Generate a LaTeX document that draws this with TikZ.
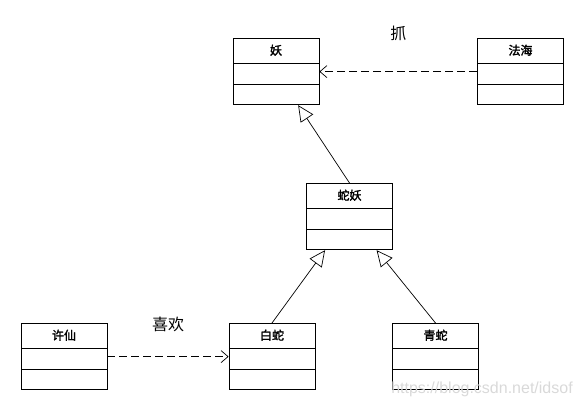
\documentclass[tikz,border=0pt]{standalone}
\usepackage{fontspec}
\newfontfamily\cjk{Noto Sans CJK SC}[AutoFakeBold=2]
\newfontfamily\wmfont{Liberation Sans}
\usepackage{tikz}
\usetikzlibrary{shapes.multipart,arrows.meta}

% class box: name part + two empty parts
\newcommand{\umlclass}[1]{\rule[-8pt]{0pt}{24pt}\textbf{#1}\nodepart{two}\nodepart{three}}

\tikzset{
  cls/.style={rectangle split, rectangle split parts=3, draw, line width=0.8pt,
    minimum width=86pt, inner ysep=0pt, inner xsep=2pt,
    rectangle split empty part height=20pt, rectangle split empty part depth=0pt,
    font=\cjk\fontsize{12pt}{12pt}\selectfont},
  dep/.style={draw, line width=0.7pt, dash pattern=on 8pt off 4pt,
    -{Straight Barb[length=7pt,width=12pt]}},
  inh/.style={draw, line width=0.7pt, -{Triangle[open,length=16pt,width=15pt,fill=white]}},
  lbl/.style={font=\cjk\fontsize{16pt}{16pt}\selectfont, inner sep=0pt}
}

\begin{document}
\begin{tikzpicture}[x=1pt, y=-1pt]
 \useasboundingbox (0,0) rectangle (582,406);

 \node[cls, anchor=north] (yao)     at (276,38)    {\umlclass{妖}};
 \node[cls, anchor=north] (fahai)   at (520.5,38)  {\umlclass{法海}};
 \node[cls, anchor=north] (sheyao)  at (349.5,183) {\umlclass{蛇妖}};
 \node[cls, anchor=north] (xuxian)  at (64,323)    {\umlclass{许仙}};
 \node[cls, anchor=north] (baishe)  at (272,323)   {\umlclass{白蛇}};
 \node[cls, anchor=north] (qingshe) at (435.5,323) {\umlclass{青蛇}};

 \draw[dep] (fahai) -- node[lbl, above=31pt] (zhua) {抓} (yao);
 \draw[dep] (xuxian) -- node[lbl, above=24pt] (xihuan) {喜欢} (baishe);

 \draw[inh] (sheyao.north) -- (yao);
 \draw[inh] (baishe.north) -- (sheyao);
 \draw[inh] (qingshe.north) -- (sheyao);

 \node[font=\wmfont\fontsize{16pt}{16pt}\selectfont, text=gray!30, inner sep=0pt]
  (mark) at (482,389) {https://blog.csdn.net/idsof};
\end{tikzpicture}
\end{document}
